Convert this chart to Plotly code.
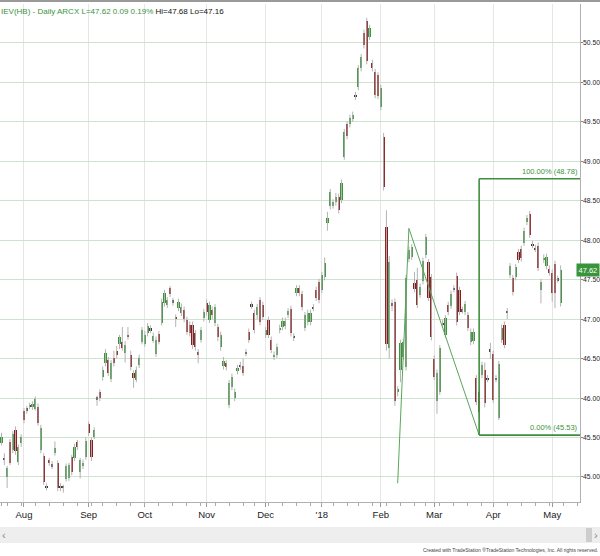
import pandas as pd
import plotly.graph_objects as go

# ---------------- data ----------------
holidays = ["2017-09-04", "2017-11-23", "2017-12-25", "2018-01-01",
            "2018-01-15", "2018-02-19", "2018-03-30"]
dates = pd.bdate_range("2017-07-20", "2018-05-04", freq="C", holidays=holidays)
axis_dates = pd.bdate_range("2017-07-20", "2018-05-15", freq="C", holidays=holidays)
date_str = [d.strftime("%Y-%m-%d") for d in dates]
axis_str = [d.strftime("%Y-%m-%d") for d in axis_dates]

open_prices = [
    45.43, 45.24, 45.00, 45.44, 45.34, 45.60, 45.19, 45.43,
    45.84, 45.85, 45.90, 45.88, 45.86, 45.89, 45.34, 45.27, 44.88, 45.21,
    45.15, 45.30, 45.18, 44.87, 44.88, 44.97, 44.98, 45.25, 45.24, 45.44,
    45.06, 45.14, 45.25, 45.67, 45.47, 45.51, 45.99, 46.08, 46.27, 46.44,
    46.48, 46.24, 46.51, 46.60, 46.69, 46.71, 46.57, 46.80, 46.55, 46.32,
    46.23, 46.42, 46.71, 46.69, 46.82, 46.88, 46.72, 46.56, 46.81, 46.95,
    47.20, 47.18, 47.39, 47.23, 47.03, 47.14, 47.08, 47.12, 46.99, 46.93,
    46.93, 46.82, 46.58, 46.74, 47.01, 47.20, 46.99, 47.12, 46.95, 46.90,
    46.65, 46.41, 46.44, 45.91, 46.14, 46.00, 46.34, 46.40, 46.41, 46.57,
    46.84, 47.17, 47.08, 47.05, 47.24, 47.18, 46.80, 46.99, 46.74, 46.52,
    46.55, 46.86, 46.90, 46.91, 47.05, 47.13, 46.78, 47.33, 47.39, 47.32,
    46.89, 46.96, 46.96, 47.14, 47.37, 47.47, 47.37, 47.53, 48.22, 48.43,
    48.43, 48.48, 48.55, 48.51, 49.06, 49.47, 49.47, 49.54, 49.82, 49.94,
    50.18, 50.63, 50.78, 50.58, 50.25, 50.13, 50.09, 49.69, 49.31, 48.17,
    46.63, 47.20, 47.22, 46.08, 46.36, 46.52, 46.39, 47.76, 47.79, 47.46,
    47.50, 47.31, 47.48, 47.81, 47.72, 47.53, 46.50, 45.96, 46.08, 46.93,
    46.80, 47.18, 47.17, 47.38, 47.55, 47.37, 47.11, 47.09, 47.05, 46.71,
    46.72, 46.25, 46.08, 46.29, 46.36, 46.24, 46.60, 46.56, 46.24, 45.75,
    46.74, 46.93, 47.09, 47.56, 47.52, 47.53, 47.85, 47.89, 47.97, 48.23,
    48.33, 47.94, 47.89, 47.93, 47.37, 47.75, 47.67, 47.64, 47.59, 47.70,
    47.50, 47.20,
]
high_prices = [
    45.56, 45.30, 45.14, 45.48, 45.58, 45.64, 45.41, 45.54,
    45.87, 45.90, 45.94, 45.96, 46.02, 45.93, 45.66, 45.30, 44.92, 45.24,
    45.20, 45.45, 45.21, 44.92, 44.90, 45.17, 45.18, 45.28, 45.42, 45.47,
    45.24, 45.22, 45.50, 45.70, 45.50, 45.63, 46.03, 46.11, 46.40, 46.62,
    46.52, 46.48, 46.60, 46.66, 46.80, 46.90, 46.72, 46.90, 46.60, 46.35,
    46.40, 46.55, 46.90, 46.85, 46.95, 46.92, 46.83, 46.78, 46.85, 47.26,
    47.37, 47.28, 47.42, 47.27, 47.06, 47.26, 47.20, 47.16, 47.03, 46.97,
    46.97, 46.86, 46.62, 46.90, 47.13, 47.25, 47.22, 47.16, 47.19, 46.94,
    46.84, 46.52, 46.48, 46.23, 46.31, 46.12, 46.42, 46.46, 46.50, 46.62,
    46.88, 47.22, 47.12, 47.19, 47.28, 47.22, 46.90, 47.03, 46.78, 46.59,
    46.69, 46.93, 47.02, 47.02, 47.14, 47.17, 46.82, 47.43, 47.43, 47.36,
    47.09, 47.12, 47.12, 47.19, 47.41, 47.51, 47.60, 47.78, 48.36, 48.65,
    48.52, 48.60, 48.59, 48.77, 49.41, 49.51, 49.59, 49.63, 49.88, 50.22,
    50.36, 50.67, 50.82, 50.73, 50.29, 50.17, 50.13, 49.97, 49.36, 48.38,
    47.80, 47.25, 47.26, 46.15, 46.74, 46.75, 47.56, 47.92, 47.95, 47.60,
    47.65, 47.45, 47.78, 48.08, 47.76, 47.57, 46.54, 46.36, 46.67, 46.99,
    47.05, 47.22, 47.36, 47.43, 47.59, 47.41, 47.16, 47.23, 47.09, 46.88,
    46.88, 46.29, 46.12, 46.46, 46.45, 46.29, 46.70, 46.60, 46.29, 46.47,
    46.93, 46.97, 47.14, 47.71, 47.56, 47.70, 47.89, 47.93, 48.16, 48.32,
    48.37, 47.99, 47.94, 47.97, 47.51, 47.82, 47.83, 47.68, 47.63, 47.74,
    47.55, 47.68,
]
low_prices = [
    45.40, 45.15, 44.86, 45.15, 45.30, 45.28, 45.15, 45.38,
    45.68, 45.80, 45.86, 45.85, 45.84, 45.65, 45.30, 44.90, 44.83, 45.14,
    45.10, 45.27, 44.82, 44.82, 44.80, 44.94, 44.95, 45.02, 45.20, 45.34,
    44.98, 45.10, 45.22, 45.52, 45.20, 45.48, 45.90, 45.96, 46.22, 46.40,
    46.28, 46.20, 46.40, 46.50, 46.62, 46.60, 46.45, 46.74, 46.35, 46.13,
    46.20, 46.38, 46.68, 46.65, 46.78, 46.82, 46.70, 46.52, 46.68, 46.92,
    47.16, 47.14, 47.28, 47.17, 46.90, 47.10, 47.04, 46.96, 46.80, 46.78,
    46.62, 46.60, 46.44, 46.70, 46.97, 47.05, 46.95, 47.00, 46.91, 46.72,
    46.60, 46.36, 46.35, 45.87, 46.10, 45.96, 46.30, 46.36, 46.28, 46.53,
    46.70, 47.13, 46.82, 47.00, 46.92, 46.99, 46.76, 46.76, 46.57, 46.48,
    46.51, 46.82, 46.86, 46.87, 47.01, 46.78, 46.72, 47.29, 47.29, 47.11,
    46.85, 46.92, 46.92, 47.10, 47.23, 47.20, 47.33, 47.49, 48.12, 48.39,
    48.40, 48.44, 48.34, 48.47, 49.02, 49.28, 49.43, 49.50, 49.78, 49.90,
    50.14, 50.43, 50.23, 50.54, 50.14, 49.80, 49.79, 49.65, 48.63, 46.60,
    46.50, 47.10, 45.90, 46.02, 46.20, 46.48, 46.35, 47.72, 47.75, 47.34,
    47.14, 47.27, 47.44, 47.77, 47.23, 46.73, 46.23, 45.80, 46.04, 46.89,
    46.76, 47.05, 47.13, 47.34, 46.92, 47.05, 47.07, 47.05, 46.85, 46.67,
    46.68, 45.91, 45.75, 46.25, 45.88, 46.20, 46.50, 45.94, 46.20, 45.72,
    46.70, 46.63, 47.00, 47.52, 47.30, 47.49, 47.71, 47.73, 47.93, 48.19,
    48.03, 47.90, 47.85, 47.61, 47.20, 47.71, 47.63, 47.55, 47.22, 47.14,
    47.46, 47.16,
]
close_prices = [
    45.51, 45.22, 45.11, 45.18, 45.55, 45.33, 45.38, 45.51,
    45.72, 45.87, 45.91, 45.93, 45.99, 45.68, 45.62, 44.94, 44.87, 45.18,
    45.14, 45.37, 44.86, 44.88, 44.87, 45.14, 45.15, 45.06, 45.38, 45.38,
    45.21, 45.18, 45.46, 45.56, 45.25, 45.59, 46.00, 46.00, 46.36, 46.57,
    46.32, 46.44, 46.44, 46.55, 46.77, 46.63, 46.67, 46.77, 46.39, 46.25,
    46.36, 46.51, 46.86, 46.80, 46.91, 46.86, 46.79, 46.74, 46.71, 47.22,
    47.33, 47.24, 47.32, 47.22, 47.00, 47.22, 47.15, 47.00, 46.84, 46.82,
    46.67, 46.65, 46.55, 46.86, 47.09, 47.09, 47.18, 47.05, 47.15, 46.77,
    46.80, 46.47, 46.39, 46.19, 46.27, 46.08, 46.38, 46.42, 46.32, 46.58,
    46.74, 47.18, 46.86, 47.15, 46.96, 47.03, 46.86, 46.80, 46.61, 46.55,
    46.65, 46.89, 46.98, 46.98, 47.10, 46.82, 46.77, 47.39, 47.33, 47.15,
    47.05, 47.08, 47.08, 47.15, 47.27, 47.24, 47.56, 47.71, 48.28, 48.61,
    48.48, 48.55, 48.38, 48.73, 49.37, 49.32, 49.55, 49.59, 49.84, 50.18,
    50.32, 50.47, 50.27, 50.69, 50.18, 49.84, 49.83, 49.93, 48.67, 46.69,
    47.72, 47.17, 45.96, 46.11, 46.70, 46.71, 47.52, 47.88, 47.91, 47.38,
    47.18, 47.41, 47.74, 48.04, 47.27, 46.77, 46.27, 46.32, 46.63, 46.95,
    47.01, 47.09, 47.32, 47.39, 46.96, 47.09, 47.12, 47.19, 46.89, 46.84,
    46.84, 45.95, 45.82, 46.42, 45.94, 46.25, 46.61, 45.98, 46.25, 46.43,
    46.89, 46.67, 47.10, 47.67, 47.34, 47.66, 47.75, 47.77, 48.12, 48.28,
    48.07, 47.95, 47.90, 47.65, 47.47, 47.78, 47.79, 47.59, 47.33, 47.33,
    47.51, 47.62,
]

month_ticks = ["2017-08-01", "2017-09-01", "2017-10-02", "2017-11-01", "2017-12-01",
               "2018-01-02", "2018-02-01", "2018-03-01", "2018-04-02", "2018-05-01"]
month_labels = ["Aug", "Sep", "Oct", "Nov", "Dec", "'18", "Feb", "Mar", "Apr", "May"]
price_ticks = [45.0, 45.5, 46.0, 46.5, 47.0, 47.5, 48.0, 48.5, 49.0, 49.5, 50.0, 50.5]

trend_dates = ["2018-02-09", "2018-02-15", "2018-03-23"]
trend_prices = [44.92, 48.15, 45.53]
fib_start = "2018-03-23"
fib_high = 48.78
fib_low = 45.53
last_price = 47.62

header_symbol = "IEV(HB) - Daily ARCX L=47.62 0.09 0.19%"
header_range = "Hi=47.68 Lo=47.16"

# visible window, in bar slots (0 = first bar)
x_range = [-0.54, 205.9]
y_range = [44.682, 50.994]

# ---------------- styling ----------------
UP = "#3a943a"
DOWN = "#8b1a1a"
DOJI = "#3a3a3a"
WICK = "#b3b3b3"
FONT = "Liberation Sans Narrow, Arial Narrow, Liberation Sans, Arial, sans-serif"

n = min(len(date_str), len(open_prices), len(high_prices), len(low_prices), len(close_prices))
xs = date_str[:n]

wx, wy = [], []
for d, h, l in zip(xs, high_prices[:n], low_prices[:n]):
    wx += [d, d, None]
    wy += [l, h, None]

bases, heights, colors = [], [], []
for o, c in zip(open_prices[:n], close_prices[:n]):
    lo, hi = min(o, c), max(o, c)
    h = hi - lo
    if h < 0.025:
        mid = (lo + hi) / 2
        lo, h = mid - 0.0125, 0.025
        colors.append(DOJI)
    else:
        colors.append(UP if c > o else DOWN)
    bases.append(lo)
    heights.append(h)

# first trading day of each week -> minor ticks
week_ticks = [k for k, d in enumerate(axis_dates)
              if k == 0 or d.weekday() < axis_dates[k - 1].weekday()]

fig = go.Figure()
fig.add_trace(go.Scatter(x=wx, y=wy, mode="lines", line=dict(color=WICK, width=1),
                         hoverinfo="skip", showlegend=False))
fig.add_trace(go.Bar(x=xs, y=heights, base=bases, marker=dict(color=colors, line=dict(width=0)),
                     width=0.78, showlegend=False))
fig.add_trace(go.Scatter(x=trend_dates, y=trend_prices, mode="lines",
                         line=dict(color="#5aa55a", width=1), showlegend=False, hoverinfo="skip"))
fig.add_trace(go.Scatter(x=[week_ticks[0]], y=[None], xaxis="x2", mode="markers",
                         showlegend=False, hoverinfo="skip"))

H = 556
PT, PB = 4, 502
PW = 580.0


def py(Y):
    return (PB - Y) / (PB - PT)


def px(X):
    return X / PW


fib_i = axis_str.index(fib_start)
FIBC = "#3d8f3d"
shapes = [
    dict(type="line", xref="x", yref="y", x0=fib_i, x1=x_range[1], y0=fib_high, y1=fib_high,
         line=dict(color=FIBC, width=1.6)),
    dict(type="line", xref="x", yref="y", x0=fib_i, x1=x_range[1], y0=fib_low, y1=fib_low,
         line=dict(color=FIBC, width=1.6)),
    dict(type="line", xref="x", yref="y", x0=fib_i, x1=fib_i, y0=fib_low, y1=fib_high,
         line=dict(color=FIBC, width=1.6)),
    dict(type="rect", xref="paper", yref="paper", x0=px(0), x1=px(600), y0=py(543), y1=py(527),
         fillcolor="#eeeeee", line=dict(width=0), layer="below"),
    dict(type="rect", xref="paper", yref="paper", x0=px(586), x1=px(592), y0=py(542), y1=py(528),
         fillcolor="#cdcdcd", line=dict(width=0)),
    dict(type="line", xref="paper", yref="paper", x0=px(0), x1=px(600), y0=py(1), y1=py(1),
         line=dict(color="#9a9a9a", width=2)),
]

annotations = [
    dict(xref="paper", yref="paper", x=px(0), y=py(12), xanchor="left", yanchor="middle",
         text=f"<span style='color:{UP}'>{header_symbol}</span> {header_range}",
         showarrow=False, borderpad=0, font=dict(family=FONT, size=8, color="#111")),
    dict(xref="paper", yref="y", x=px(580), y=fib_high, xanchor="right", yanchor="bottom",
         text=f"100.00% ({fib_high:.2f})", showarrow=False, yshift=1,
         font=dict(family=FONT, size=7.5, color=UP)),
    dict(xref="paper", yref="y", x=px(580), y=fib_low, xanchor="right", yanchor="bottom",
         text=f"0.00% ({fib_low:.2f})", showarrow=False, yshift=1,
         font=dict(family=FONT, size=7.5, color=UP)),
    dict(xref="paper", yref="paper", x=px(4), y=py(535), xanchor="center", yanchor="middle",
         text="‹", showarrow=False, font=dict(family=FONT, size=11, color="#888")),
    dict(xref="paper", yref="paper", x=px(596), y=py(535), xanchor="center", yanchor="middle",
         text="›", showarrow=False, font=dict(family=FONT, size=11, color="#888")),
    dict(xref="paper", yref="paper", x=px(599), y=py(550), xanchor="right", yanchor="middle",
         text="Created with TradeStation ®TradeStation Technologies, Inc. All rights reserved.",
         showarrow=False, borderpad=0, font=dict(family=FONT, size=5, color="#444")),
]
# right-hand price labels (placed next to the axis ticks)
for p in price_ticks:
    annotations.append(dict(xref="paper", yref="y", x=1.0, y=p, xanchor="left", yanchor="middle",
                            xshift=2, borderpad=0, text=f"{p:.2f}", showarrow=False,
                            font=dict(family=FONT, size=6.8, color="#222")))
annotations.append(dict(xref="paper", yref="y", x=px(599.5), y=last_price, xanchor="right",
                        yanchor="middle", text=f"{last_price:.2f}", showarrow=False,
                        bgcolor=UP, borderpad=1.5,
                        font=dict(family=FONT, size=7.5, color="white")))

fig.update_layout(
    template="none",
    width=600, height=H,
    margin=dict(l=0, r=20, t=PT, b=H - PB, pad=0, autoexpand=False),
    paper_bgcolor="white", plot_bgcolor="white",
    bargap=0, showlegend=False, hovermode=False,
    annotations=annotations, shapes=shapes,
    xaxis=dict(
        type="category", categoryorder="array", categoryarray=axis_str,
        range=x_range, automargin=False,
        tickmode="array", tickvals=month_ticks, ticktext=month_labels,
        showgrid=True, gridcolor="#e6e6e6", gridwidth=1,
        ticks="outside", ticklen=4, tickcolor="#999",
        showline=True, linecolor="#b0b0b0", linewidth=1,
        tickfont=dict(family=FONT, size=9.5, color="#222"),
        zeroline=False, fixedrange=True,
    ),
    xaxis2=dict(
        type="linear", overlaying="x", anchor="y", side="bottom", range=x_range,
        automargin=False,
        tickmode="array", tickvals=week_ticks, ticks="outside", ticklen=3, tickcolor="#aaa",
        showticklabels=False, showgrid=False, showline=False, zeroline=False, fixedrange=True,
    ),
    yaxis=dict(
        side="right", range=y_range, automargin=False,
        tickmode="array", tickvals=price_ticks, showticklabels=False,
        showgrid=True, gridcolor="#cfe2cf", gridwidth=1,
        ticks="outside", ticklen=2, tickcolor="#888",
        showline=True, linecolor="#b0b0b0", linewidth=1,
        zeroline=False, fixedrange=True,
    ),
)

# the page's default 8px body margin would push the 600x556 figure out of the window
fig.write_html("out.html", config={"displayModeBar": False},
               post_script="document.body.style.margin='0';document.body.style.padding='0';")
